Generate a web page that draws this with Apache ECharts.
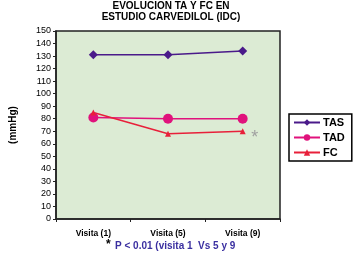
<!DOCTYPE html>
<html>
<head>
<meta charset="utf-8">
<script src="https://cdn.jsdelivr.net/npm/echarts@6/dist/echarts.min.js"></script>
<style>
  html, body { margin: 0; padding: 0; background: #fff; }
  #chart { width: 360px; height: 254px; }
</style>
</head>
<body>
<div id="chart"></div>
<script>
const visits = ['Visita (1)', 'Visita (5)', 'Visita (9)'];
const tas = [131, 131, 134];
const tad = [81, 80, 80];
const fc = [85, 68, 70];

const font = 'Liberation Sans, Arial, sans-serif';
const chart = echarts.init(document.getElementById('chart'));

chart.setOption({
  animation: false,
  textStyle: {fontFamily: font},
  title: {
    text: 'EVOLUCION TA Y FC EN\nESTUDIO CARVEDILOL (IDC)',
    left: 166,
    textAlign: 'center',
    top: -4,
    textStyle: {fontSize: 10, fontWeight: 'bold', color: '#000', lineHeight: 11}
  },
  legend: {
    orient: 'vertical',
    left: 289,
    top: 114,
    itemWidth: 26,
    itemHeight: 8,
    itemGap: 4,
    padding: [3, 7, 3, 4],
    borderColor: '#000',
    borderWidth: 1.5,
    backgroundColor: '#fff',
    textStyle: {fontSize: 11, fontWeight: 'bold', color: '#000', padding: [0, 0, 0, -2]},
    data: ['TAS', 'TAD', 'FC']
  },
  grid: {
    left: 53, right: 80, top: 31, bottom: 35,
    show: true,
    backgroundColor: '#dcebd4',
    borderColor: '#222',
    borderWidth: 1.5
  },
  xAxis: {
    type: 'category',
    data: visits,
    boundaryGap: true,
    axisLine: {lineStyle: {color: '#222', width: 1.5}},
    axisTick: {show: true, length: 3, lineStyle: {color: '#222'}},
    axisLabel: {fontSize: 8.5, fontWeight: 'bold', color: '#000', margin: 10}
  },
  yAxis: {
    type: 'value',
    min: 0, max: 150, interval: 10,
    name: '(mmHg)',
    nameLocation: 'center',
    nameGap: 38,
    nameTextStyle: {fontSize: 10, fontWeight: 'bold', color: '#000'},
    splitLine: {show: false},
    axisLine: {show: true, lineStyle: {color: '#222', width: 1.5}},
    axisTick: {show: true, length: 3, lineStyle: {color: '#222'}},
    axisLabel: {fontSize: 9, color: '#000', margin: 5}
  },
  series: [{
    name: 'TAS',
    type: 'line',
    data: tas,
    color: '#4a1a8a',
    symbol: 'diamond',
    symbolSize: 9,
    lineStyle: {width: 1.5}
  }, {
    name: 'TAD',
    type: 'line',
    data: tad,
    color: '#e0127c',
    symbol: 'circle',
    symbolSize: 10,
    lineStyle: {width: 1.5}
  }, {
    name: 'FC',
    type: 'line',
    data: fc,
    color: '#e8203a',
    symbol: 'triangle',
    symbolSize: 6,
    lineStyle: {width: 1.5},
    markPoint: {
      symbol: 'circle',
      symbolSize: 0,
      label: {show: true, formatter: '*', fontSize: 18, color: '#a0a0a0', offset: [12, 7]},
      data: [{coord: ['Visita (9)', 70]}]
    }
  }],
  graphic: [{
    type: 'text',
    left: 106,
    top: 239,
    style: {text: '*', fill: '#000', font: 'bold 12px ' + font}
  }, {
    type: 'text',
    left: 115,
    top: 241,
    style: {text: 'P < 0.01 (visita 1  Vs 5 y 9', fill: '#3a2fa0', font: 'bold 10px ' + font}
  }]
});
</script>
</body>
</html>
